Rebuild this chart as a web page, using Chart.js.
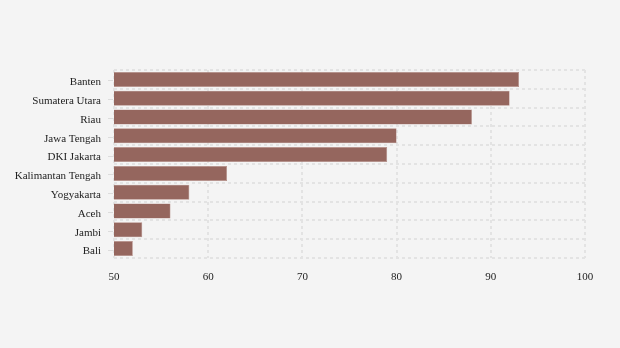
<!DOCTYPE html>
<html><head><meta charset="utf-8">
<script src="https://cdn.jsdelivr.net/npm/chart.js@4/dist/chart.umd.min.js"></script>
<style>html,body{margin:0;padding:0;background:#f4f4f4;}#wrap{width:620px;height:348px;}</style>
</head><body><div id="wrap"><canvas id="c"></canvas></div>
<script>
const categories = ["Banten","Sumatera Utara","Riau","Jawa Tengah","DKI Jakarta","Kalimantan Tengah","Yogyakarta","Aceh","Jambi","Bali"];
const values = [93, 92, 88, 80, 79, 62, 58, 56, 53, 52];
const xTicks = [50, 60, 70, 80, 90, 100];

const yTickMarks = {
  id: 'yTickMarks',
  afterDatasetsDraw(chart) {
    const y = chart.scales.y, ctx = chart.ctx;
    ctx.save();
    ctx.strokeStyle = '#dcdcdc';
    ctx.lineWidth = 1;
    categories.forEach((c, i) => {
      const py = Math.round(y.getPixelForValue(i)) + 1.5;
      ctx.beginPath(); ctx.moveTo(y.right - 6, py); ctx.lineTo(y.right - 1, py); ctx.stroke();
    });
    ctx.restore();
  }
};

new Chart(document.getElementById('c'), {
  type: 'bar',
  data: { labels: categories, datasets: [{ data: values, backgroundColor: '#95665e', borderColor: '#b58d86', borderWidth: 0.6, borderSkipped: false, barPercentage: 0.8, categoryPercentage: 1 }] },
  options: {
    indexAxis: 'y', responsive: true, maintainAspectRatio: false, animation: false,
    layout: { padding: { top: 70, right: 35, bottom: 60, left: 0 } },
    plugins: { legend: { display: false }, tooltip: { enabled: false } },
    scales: {
      x: {
        type: 'linear', min: 50, max: 100,
        afterBuildTicks(s) { s.ticks = xTicks.map(v => ({ value: v })); },
        afterFit(s) { s.height = 30; },
        grid: { color: '#e3e3e3', lineWidth: 2, drawTicks: false },
        border: { display: false, dash: [3, 3] },
        ticks: { color: '#222', font: { family: 'Liberation Serif', size: 11 }, padding: 13, maxRotation: 0 }
      },
      y: {
        afterFit(s) { s.width = 114; },
        grid: { color: '#e3e3e3', lineWidth: 2, drawTicks: false, offset: true },
        border: { display: false, dash: [3, 3] },
        ticks: { color: '#222', font: { family: 'Liberation Serif', size: 11 }, padding: 13, labelOffset: 3 }
      }
    }
  },
  plugins: [yTickMarks]
});
</script></body></html>
